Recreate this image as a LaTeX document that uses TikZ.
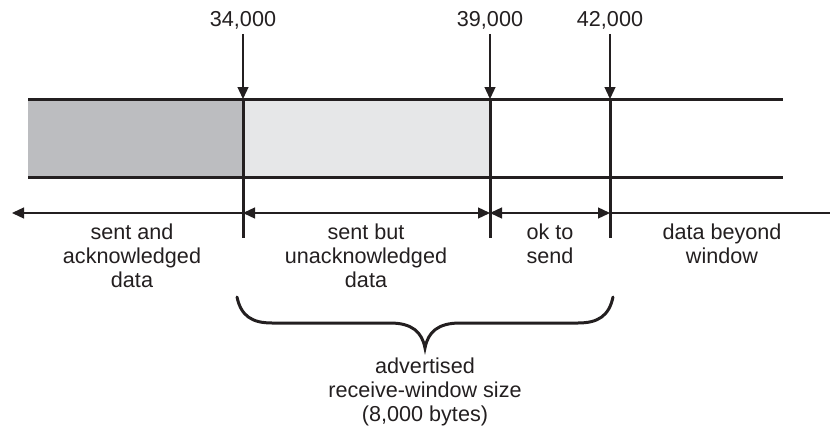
\documentclass[tikz,border=0pt]{standalone}
\usepackage{fontspec}
\setmainfont{Liberation Sans}
\usetikzlibrary{arrows.meta}
\definecolor{darkfill}{HTML}{BCBDC0}
\definecolor{lightfill}{HTML}{E6E7E8}
\definecolor{ink}{HTML}{231F20}
\tikzset{
  band/.style={ink, line width=3pt},
  divider/.style={ink, line width=3pt},
  thin/.style={ink, line width=1.3pt},
  tip/.style={-{Triangle[length=12pt,width=11pt]}},
  lbl/.style={inner sep=0pt, align=center, text=ink, font=\fontsize{21.6}{24}\selectfont},
  brace/.style={ink, line width=3pt, line cap=round}
}
\begin{document}
\begin{tikzpicture}[x=1pt,y=-1pt]
\useasboundingbox (0,0) rectangle (831,431);
% fills
\fill[darkfill] (28,99) rectangle (243,177);
\fill[lightfill] (243,99) rectangle (490,177);
% band borders
\coordinate (bl) at (28,99);
\coordinate (br) at (783,99);
\coordinate (bl2) at (28,177);
\coordinate (br2) at (783,177);
\draw[band] (bl) -- (br);
\draw[band] (bl2) -- (br2);
% dividers
\coordinate (d1t) at (243,99);  \coordinate (d1b) at (243,238);
\coordinate (d2t) at (490,99);  \coordinate (d2b) at (490,238);
\coordinate (d3t) at (610,99);  \coordinate (d3b) at (610,238);
\draw[divider] (d1t) -- (d1b);
\draw[divider] (d2t) -- (d2b);
\draw[divider] (d3t) -- (d3b);
% top labels
\node[lbl, anchor=base] (n1) at (243,27) {34,000};
\node[lbl, anchor=base] (n2) at (490,27) {39,000};
\node[lbl, anchor=base] (n3) at (610,27) {42,000};
\draw[thin, tip] (n1.south) ++(0,4) -- (d1t);
\draw[thin, tip] (n2.south) ++(0,4) -- (d2t);
\draw[thin, tip] (n3.south) ++(0,4) -- (d3t);
% horizontal arrows
\coordinate (h0) at (12,213);
\coordinate (h1) at (243,213);
\coordinate (h2) at (490,213);
\coordinate (h3) at (610,213);
\coordinate (h4) at (830,213);
\draw[thin, tip] (h1) -- (h0);
\draw[thin, {Triangle[length=12pt,width=11pt]}-{Triangle[length=12pt,width=11pt]}] (h1) -- (h2);
\draw[thin, {Triangle[length=12pt,width=11pt]}-{Triangle[length=12pt,width=11pt]}] (h2) -- (h3);
\draw[thin] (h3) -- (h4);
% segment labels
\node[lbl, anchor=north] (s1) at (132,224) {sent and\\acknowledged\\data};
\node[lbl, anchor=north] (s2) at (366,224) {sent but\\unacknowledged\\data};
\node[lbl, anchor=north] (s3) at (550,224) {ok to\\send};
\node[lbl, anchor=north] (s4) at (722,224) {data beyond\\window};
% brace
\coordinate (bL) at (237,297);
\coordinate (bR) at (613,297);
\coordinate (bM) at (425,348);
\draw[brace] (bL) .. controls (241,316) and (252,323) .. (272,323)
  -- (390,323) .. controls (412,323) and (422,332) .. (bM)
  .. controls (428,332) and (438,323) .. (460,323)
  -- (578,323) .. controls (598,323) and (609,316) .. (bR);
\node[lbl, anchor=north] (w) at (425,358) {advertised\\receive-window size\\(8,000 bytes)};
\end{tikzpicture}
\end{document}
